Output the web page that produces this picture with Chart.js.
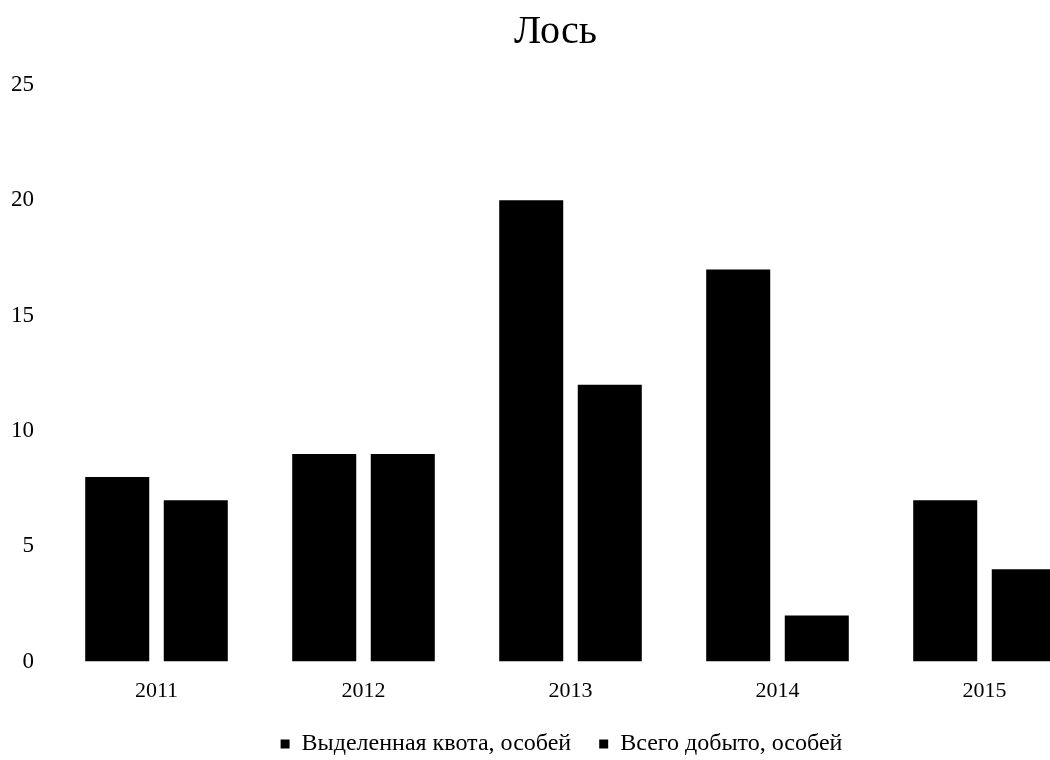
<!DOCTYPE html>
<html lang="ru">
<head>
<meta charset="utf-8">
<title>Лось</title>
<script src="https://cdn.jsdelivr.net/npm/chart.js@4/dist/chart.umd.min.js"></script>
<style>
  html, body { margin: 0; padding: 0; background: #fff; overflow: hidden; }
  #wrap { width: 1090px; height: 760px; position: relative; }
</style>
</head>
<body>
<div id="wrap"><canvas id="chart"></canvas></div>
<script>
// Moose: allocated hunting quota vs. animals taken, by year
const years = ['2011', '2012', '2013', '2014', '2015'];
const quota = [8, 9, 20, 17, 7];
const harvested = [7, 9, 12, 2, 4];
const yTicks = [0, 5, 10, 15, 20, 25];

const serif = '"Liberation Serif", "DejaVu Serif", serif';

// Nudge the title and legend horizontally after layout
const blockOffset = {
  id: 'blockOffset',
  afterLayout(chart, args, opts) {
    const shift = (box, dx) => { if (box) { box.left += dx; box.right += dx; } };
    shift(chart.titleBlock, opts.title || 0);
    shift(chart.legend, opts.legend || 0);
  }
};

new Chart(document.getElementById('chart'), {
  type: 'bar',
  data: {
    labels: years,
    datasets: [
      { label: 'Выделенная квота, особей', data: quota, backgroundColor: '#000', borderWidth: 0 },
      { label: 'Всего добыто, особей', data: harvested, backgroundColor: '#000', borderWidth: 0 }
    ]
  },
  plugins: [blockOffset],
  options: {
    responsive: true,
    maintainAspectRatio: false,
    animation: false,
    categoryPercentage: 0.759,
    barPercentage: 0.815,
    layout: { padding: { left: 11, right: 2, top: 4, bottom: -6 } },
    plugins: {
      blockOffset: { title: 6, legend: 12 },
      title: {
        display: true,
        text: 'Лось',
        color: '#000',
        font: { family: serif, size: 40, weight: 'normal' },
        padding: { top: 4, bottom: 29 }
      },
      legend: {
        position: 'bottom',
        labels: {
          color: '#000',
          font: { family: serif, size: 24 },
          boxWidth: 9,
          boxHeight: 9,
          padding: 28
        }
      },
      tooltip: { enabled: false }
    },
    scales: {
      x: {
        grid: { display: false, drawTicks: true, tickLength: 16 },
        border: { display: false },
        ticks: { color: '#000', font: { family: serif, size: 22 }, padding: 0 }
      },
      y: {
        min: 0,
        max: 25,
        afterBuildTicks: axis => { axis.ticks = yTicks.map(v => ({ value: v })); },
        grid: { display: false, drawTicks: true, tickLength: 19 },
        border: { display: false },
        ticks: { color: '#000', font: { family: serif, size: 23 }, padding: 0 }
      }
    }
  }
});
</script>
</body>
</html>
